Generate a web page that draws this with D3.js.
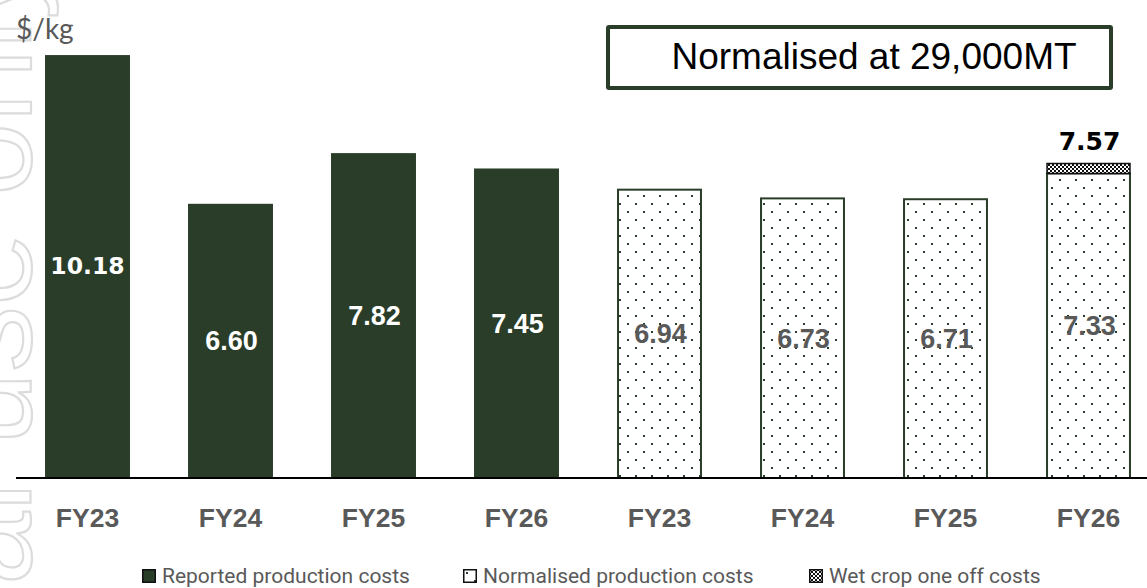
<!DOCTYPE html>
<html>
<head>
<meta charset="utf-8">
<script src="https://cdn.jsdelivr.net/npm/d3@7"></script>
<style>
  html, body { margin: 0; padding: 0; background: #fff; }
  svg { display: block; }
</style>
</head>
<body>
<div id="chart"></div>
<script>
// Production cost per kg: reported vs normalised at 29,000MT
const categories = ["FY23", "FY24", "FY25", "FY26", "FY23", "FY24", "FY25", "FY26"];
const groups = ["reported", "reported", "reported", "reported", "normalised", "normalised", "normalised", "normalised"];
const baseValues = [10.18, 6.60, 7.82, 7.45, 6.94, 6.73, 6.71, 7.33];
const wetCropValues = [0, 0, 0, 0, 0, 0, 0, 0.24];
const totalLabels = [null, null, null, null, null, null, null, 7.57];
const legendLabels = ["Reported production costs", "Normalised production costs", "Wet crop one off costs"];

const W = 1147, H = 588;
const green = "#293d29";
const grey = "#595959";
const sans = "Liberation Sans, Arial, sans-serif";

const svg = d3.select("#chart").append("svg").attr("width", W).attr("height", H);
const defs = svg.append("defs");

// Dotted fill for normalised bars
const dots = defs.append("pattern").attr("id", "dots")
  .attr("patternUnits", "userSpaceOnUse").attr("width", 16).attr("height", 16)
  .attr("x", 0).attr("y", 0);
dots.append("rect").attr("width", 16).attr("height", 16).attr("fill", "#fff");
dots.append("rect").attr("x", 3).attr("y", 3).attr("width", 2).attr("height", 2).attr("fill", green);
dots.append("rect").attr("x", 11).attr("y", 11).attr("width", 2).attr("height", 2).attr("fill", green);

// Checker fill for the wet crop segment
const checker = defs.append("pattern").attr("id", "checker")
  .attr("patternUnits", "userSpaceOnUse").attr("width", 4).attr("height", 4);
checker.append("rect").attr("width", 4).attr("height", 4).attr("fill", "#fff");
checker.append("rect").attr("width", 2).attr("height", 2).attr("fill", "#111");
checker.append("rect").attr("x", 2).attr("y", 2).attr("width", 2).attr("height", 2).attr("fill", "#111");

// Faint outlined watermark running up the left edge
const wm = svg.append("text")
  .attr("font-family", sans).attr("font-size", 132)
  .attr("fill", "none").attr("stroke", "#dcdcdc").attr("stroke-width", 2.2)
  .text("For personal use only");
const wmText = "For personal use only";
const offset = wm.node().getSubStringLength(0, wmText.indexOf("only"));
wm.attr("transform", `translate(31,${196 + offset}) rotate(-90)`);

const idx = d3.range(categories.length);
const x = d3.scaleBand().domain(idx).range([16, 1160]).paddingInner(0.406).paddingOuter(0.203);
const y = d3.scaleLinear().domain([0, 11]).range([478, 21]);

// Bars
idx.forEach(i => {
  const bx = x(i), bw = x.bandwidth();
  if (groups[i] === "reported") {
    svg.append("rect").attr("x", bx).attr("y", y(baseValues[i]))
      .attr("width", bw).attr("height", y(0) - y(baseValues[i]))
      .attr("fill", green);
  } else {
    svg.append("rect").attr("x", bx + 1).attr("y", y(baseValues[i]))
      .attr("width", bw - 2).attr("height", y(0) - y(baseValues[i]))
      .attr("fill", "url(#dots)").attr("stroke", green).attr("stroke-width", 2);
  }
  if (wetCropValues[i] > 0) {
    const top = baseValues[i] + wetCropValues[i];
    svg.append("rect").attr("x", bx + 1).attr("y", y(top))
      .attr("width", bw - 2).attr("height", y(baseValues[i]) - y(top))
      .attr("fill", "url(#checker)").attr("stroke", "#111").attr("stroke-width", 1.5);
  }
});

// Value labels in the middle of each bar
idx.forEach(i => {
  const mid = (y(baseValues[i]) + y(0)) / 2;
  const reported = groups[i] === "reported";
  const first = i === 0;
  svg.append("text")
    .attr("x", x(i) + x.bandwidth() / 2 + (first ? 0 : 1))
    .attr("y", mid + (first ? 7.5 : 9.5))
    .attr("text-anchor", "middle")
    .attr("font-family", first ? "DejaVu Sans, sans-serif" : sans)
    .attr("font-weight", "bold").attr("font-size", first ? 23.5 : 27)
    .attr("fill", reported ? "#fff" : grey)
    .text(baseValues[i].toFixed(2));
  if (totalLabels[i] != null) {
    svg.append("text")
      .attr("x", x(i) + x.bandwidth() / 2 + 1)
      .attr("y", y(totalLabels[i]) - 13.5)
      .attr("text-anchor", "middle")
      .attr("font-family", "DejaVu Sans, sans-serif")
      .attr("font-weight", "bold").attr("font-size", 25)
      .attr("fill", "#000")
      .text(totalLabels[i].toFixed(2));
  }
});

// X axis
const xAxis = d3.axisBottom(x).tickSize(0).tickPadding(0).tickFormat(i => categories[i]);
const gx = svg.append("g").attr("transform", `translate(0,${y(0)})`).call(xAxis);
gx.select(".domain").remove();
gx.selectAll("text")
  .attr("dy", 0).attr("y", 49)
  .attr("font-family", sans)
  .attr("font-weight", "bold").attr("font-size", 26.5).attr("fill", grey);
svg.append("line").attr("x1", 16).attr("x2", W).attr("y1", y(0)).attr("y2", y(0))
  .attr("stroke", "#000").attr("stroke-width", 2);

// Unit label
svg.append("text").attr("x", 16).attr("y", 39)
  .attr("font-family", "Lato, sans-serif").attr("font-size", 28).attr("fill", grey)
  .text("$/kg");

// Annotation box
svg.append("rect").attr("x", 608).attr("y", 27).attr("width", 503).attr("height", 61)
  .attr("fill", "#fff").attr("stroke", green).attr("stroke-width", 4).attr("rx", 1);
svg.append("text").attr("x", 874).attr("y", 69).attr("text-anchor", "middle")
  .attr("font-family", sans).attr("font-size", 37).attr("fill", "#000")
  .text("Normalised at 29,000MT");

// Legend
const legendX = [142, 463, 809];
const legendFill = [green, "url(#dots)", "url(#checker)"];
legendLabels.forEach((t, k) => {
  const g = svg.append("g").attr("transform", `translate(${legendX[k]},569)`);
  g.append("rect").attr("x", 0.75).attr("y", 0.75).attr("width", 12.5).attr("height", 12.5)
    .attr("fill", legendFill[k]).attr("stroke", "#111").attr("stroke-width", 1.5);
  g.append("text").attr("x", 20).attr("y", 14)
    .attr("font-family", "Roboto, sans-serif").attr("font-size", 21).attr("fill", grey)
    .text(t);
});
</script>
</body>
</html>
